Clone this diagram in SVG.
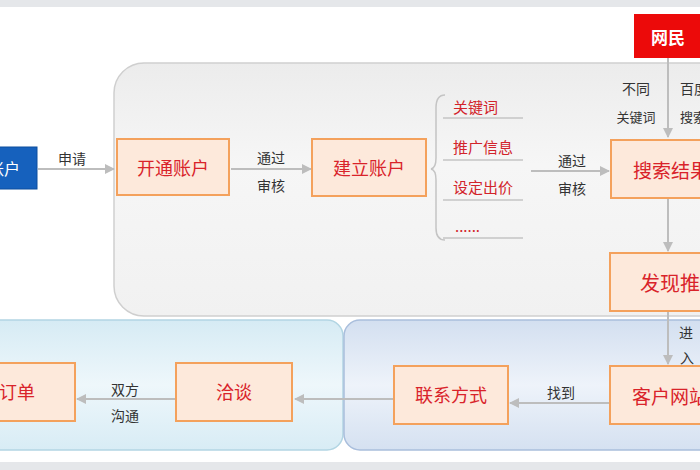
<svg xmlns="http://www.w3.org/2000/svg" width="700" height="470" viewBox="0 0 700 470">
<defs>
<linearGradient id="gGray" x1="0" y1="0" x2="0" y2="1">
<stop offset="0" stop-color="#ececec"/><stop offset="0.4" stop-color="#f6f6f6"/><stop offset="1" stop-color="#f1f1f1"/>
</linearGradient>
<linearGradient id="gCyan" x1="0" y1="0" x2="0" y2="1">
<stop offset="0" stop-color="#d6ebf4"/><stop offset="0.5" stop-color="#eef7fb"/><stop offset="1" stop-color="#d8ecf5"/>
</linearGradient>
<linearGradient id="gBlue" x1="0" y1="0" x2="0" y2="1">
<stop offset="0" stop-color="#d3dff0"/><stop offset="0.5" stop-color="#eef3fa"/><stop offset="1" stop-color="#d5e1f1"/>
</linearGradient>
<marker id="ah" viewBox="0 0 10 10" refX="9" refY="5" markerWidth="5" markerHeight="5" orient="auto">
<path d="M0,0 L10,5 L0,10 z" fill="#bdbdbd"/>
</marker>
<style>
.node{fill:#fde9db;stroke:#f4a15c;stroke-width:2}
.nt{font-family:"Noto Sans CJK SC","Noto Sans",sans-serif;font-size:18px;fill:#d9232a;dominant-baseline:central}
.lb{font-family:"Noto Sans CJK SC","Noto Sans",sans-serif;font-size:14px;fill:#333;text-anchor:middle;dominant-baseline:central}
.li{font-family:"Noto Sans CJK SC","Noto Sans",sans-serif;font-size:15px;fill:#d2232a;dominant-baseline:central}
.ln{stroke:#bdbdbd;stroke-width:2;fill:none;marker-end:url(#ah)}
.ul{stroke:#c4c4c4;stroke-width:1.5}
</style>
</defs>
<rect x="0" y="0" width="700" height="470" fill="#ffffff"/>
<rect x="0" y="0" width="700" height="7" fill="#e5e7ea"/>
<rect x="0" y="462" width="700" height="8" fill="#e5e7ea"/>
<g id="panel-top"><rect x="114" y="63" width="620" height="253" rx="30" fill="url(#gGray)" stroke="#cfcfcf" stroke-width="1.5"/></g>
<g id="panel-left"><rect x="-20" y="320" width="363" height="130" rx="16" fill="url(#gCyan)" stroke="#b2d5e3" stroke-width="1.5"/></g>
<g id="panel-right"><rect x="344" y="320" width="380" height="130" rx="16" fill="url(#gBlue)" stroke="#a9bedc" stroke-width="1.5"/></g>

<g id="connectors">
<line class="ln" x1="38" y1="169" x2="114" y2="169"/>
<line class="ln" x1="231" y1="169" x2="311" y2="169"/>
<line class="ln" x1="531" y1="171" x2="609" y2="171"/>
<line class="ln" x1="668" y1="58" x2="668" y2="137"/>
<line class="ln" x1="668" y1="199" x2="668" y2="251"/>
<line class="ln" x1="668" y1="312" x2="668" y2="364"/>
<line class="ln" x1="609" y1="403" x2="510" y2="403"/>
<line class="ln" x1="393" y1="399" x2="295" y2="399"/>
<line class="ln" x1="175" y1="399" x2="77" y2="399"/>
<path d="M445,95 Q436,95 436,108 L436,158 Q436,168 431,169 Q436,170 436,180 L436,228 Q436,240 445,240" fill="none" stroke="#c4c4c4" stroke-width="1.5"/>
<text class="lb" x="72" y="158">申请</text>
<text class="lb" x="271" y="157">通过</text>
<text class="lb" x="271" y="185">审核</text>
<text class="lb" x="572" y="160">通过</text>
<text class="lb" x="572" y="188">审核</text>
<text class="lb" x="636" y="88">不同</text>
<text class="lb" x="636" y="116" style="font-size:13px">关键词</text>
<text class="lb" x="680" y="88" style="text-anchor:start">百度</text>
<text class="lb" x="680" y="116" style="text-anchor:start;font-size:13px">搜索</text>
<text class="lb" x="686" y="332">进</text>
<text class="lb" x="687" y="357">入</text>
<text class="lb" x="561" y="392">找到</text>
<text class="lb" x="125" y="389">双方</text>
<text class="lb" x="125" y="415">沟通</text>
</g>

<g id="n-account"><rect x="-10" y="147" width="47" height="42" fill="#1661bd" stroke="#0d4f9e" stroke-width="1"/><text x="20" y="168" style="font-family:'Noto Sans CJK SC','Noto Sans',sans-serif;font-size:16px;fill:#fff;dominant-baseline:central;text-anchor:end">账户</text></g>
<g id="n-open"><rect class="node" x="117" y="139" width="112" height="56"/><text class="nt" x="173" y="167" text-anchor="middle">开通账户</text></g>
<g id="n-build"><rect class="node" x="312" y="139" width="114" height="57"/><text class="nt" x="369" y="167" text-anchor="middle">建立账户</text></g>
<g id="n-list">
<text class="li" x="453" y="106">关键词</text><line class="ul" x1="443" y1="118" x2="523" y2="118"/>
<text class="li" x="453" y="146">推广信息</text><line class="ul" x1="443" y1="160" x2="523" y2="160"/>
<text class="li" x="453" y="186">设定出价</text><line class="ul" x1="443" y1="200" x2="523" y2="200"/>
<text class="li" x="455" y="225">......</text><line class="ul" x1="443" y1="238" x2="523" y2="238"/>
</g>
<g id="n-netizen"><rect x="634" y="14" width="80" height="44" fill="#ec0a0a"/><text x="668" y="36" style="font-family:'Noto Sans CJK SC','Noto Sans',sans-serif;font-size:17px;font-weight:bold;fill:#fff;dominant-baseline:central;text-anchor:middle">网民</text></g>
<g id="n-search"><rect class="node" x="611" y="140" width="110" height="58"/><text class="nt" x="633" y="169" style="font-size:19px">搜索结果</text></g>
<g id="n-find"><rect class="node" x="610" y="253" width="110" height="58"/><text class="nt" x="640" y="282" style="font-size:20px">发现推广</text></g>
<g id="n-site"><rect class="node" x="610" y="366" width="110" height="58"/><text class="nt" x="632" y="395" style="font-size:19px">客户网站</text></g>
<g id="n-contact"><rect class="node" x="394" y="366" width="114" height="58"/><text class="nt" x="451" y="394" text-anchor="middle">联系方式</text></g>
<g id="n-talk"><rect class="node" x="176" y="363" width="116" height="58"/><text class="nt" x="234" y="391" text-anchor="middle">洽谈</text></g>
<g id="n-order"><rect class="node" x="-20" y="363" width="95" height="58"/><text class="nt" x="-1" y="391">订单</text></g>
</svg>
